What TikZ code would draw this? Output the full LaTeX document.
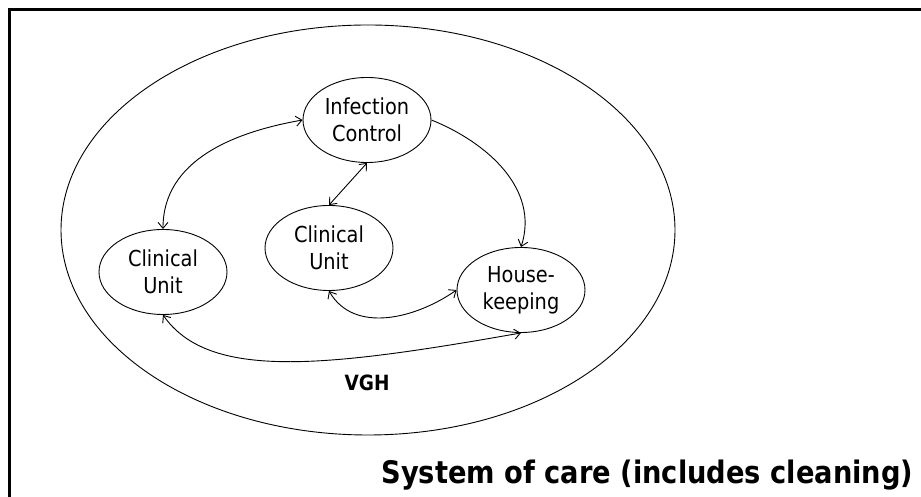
\documentclass[tikz,border=0pt]{standalone}
\usepackage{fontspec}
\setmainfont{DejaVu Sans}[FakeStretch=0.88]
\usetikzlibrary{shapes.geometric,arrows.meta}

\begin{document}
\begin{tikzpicture}[x=1pt, y=1pt, line width=0.9pt,
    >={Straight Barb[length=6pt,width=10pt]}]
      \tikzset{VertexStyle/.style={shape=ellipse, draw, minimum width=128pt,
          minimum height=85pt, inner sep=0pt, align=center,
          font=\fontsize{22}{27}\selectfont}}
      \tikzset{EdgeStyle/.style={<->}}

      \useasboundingbox (0,0) rectangle (921,497);
      \draw[line width=3pt] (9.5,0) -- (9.5,487.5) -- (921,487.5);
      \draw (368,267) ellipse [x radius=307, y radius=205];

      \node[VertexStyle] (ic) at (367,377) {Infection\\Control};
      \node[VertexStyle] (cu2) at (329,249) {Clinical\\Unit};
      \node[VertexStyle] (cu1) at (163,225) {Clinical\\Unit};
      \node[VertexStyle] (hk) at (521,207) {House-\\keeping};

      \node[font=\fontsize{21}{25}\bfseries] (vgh) at (367,114) {VGH};
      \node[font=\fontsize{31}{37}\bfseries, anchor=base east] (soc) at (917,13)
        {System of care (includes cleaning)};

      \draw[EdgeStyle] (cu1.north) to[out=90, in=190] (ic.west);
      \draw[EdgeStyle] (cu2.north) -- (ic.south);
      \draw[->] (ic.east) to[out=-22, in=72] (hk.north);
      \draw[EdgeStyle] (cu2.south) to[out=-60, in=215] (hk.west);
      \draw[EdgeStyle] (cu1.south) .. controls +(-55:80) and +(190:200) .. (hk.south);
\end{tikzpicture}
\end{document}
